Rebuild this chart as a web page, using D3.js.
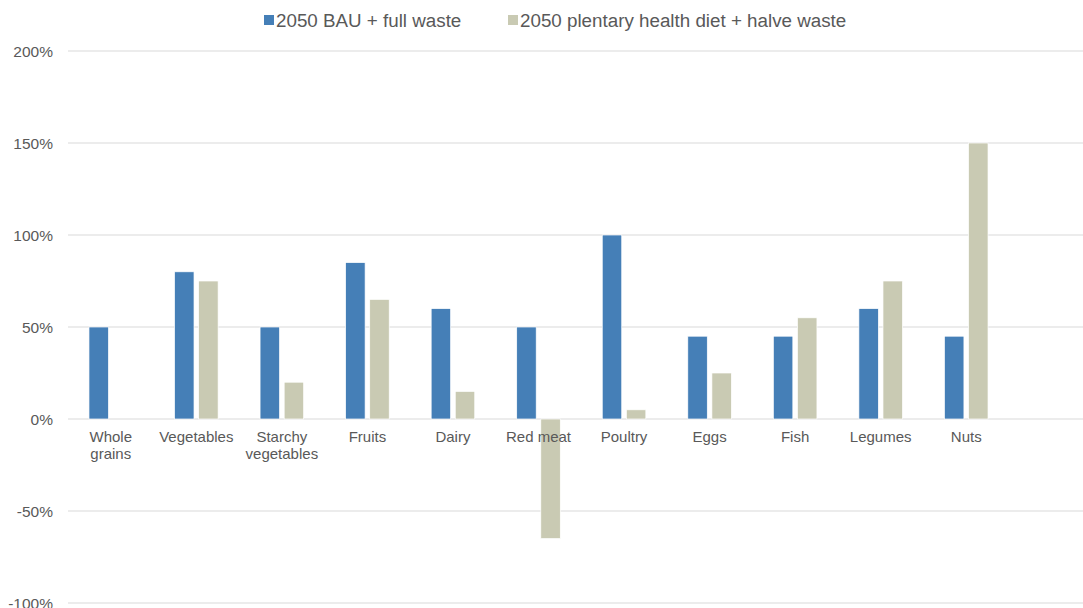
<!DOCTYPE html>
<html><head><meta charset="utf-8">
<script src="https://cdn.jsdelivr.net/npm/d3@7"></script>
<style>body{margin:0;background:#fff;} text{font-family:"Liberation Sans",Arial,sans-serif;fill:#595959;}</style>
</head><body><svg id="c" width="1083" height="608"></svg>
<script>
const categories = ["Whole grains","Vegetables","Starchy vegetables","Fruits","Dairy","Red meat","Poultry","Eggs","Fish","Legumes","Nuts"];
const seriesNames = ["2050 BAU + full waste","2050 plentary health diet + halve waste"];
const bau = [50,80,50,85,60,50,100,45,45,60,45];
const healthy = [0,75,20,65,15,-65,5,25,55,75,150];
const yTicks = [-100,-50,0,50,100,150,200];
const colors = ["#457fb7","#c9cab3"];

const svg = d3.select("#c");
const x = d3.scaleBand().domain(categories).range([68,1009]).paddingInner(0).paddingOuter(0);
const y = d3.scaleLinear().domain([-100,200]).range([603,51]);

// gridlines
svg.append("g").selectAll("line").data(yTicks).join("line")
  .attr("x1",68).attr("x2",1083).attr("y1",d=>y(d)).attr("y2",d=>y(d))
  .attr("stroke","#d9d9d9").attr("stroke-width",1);

// y axis labels
const yAxis = d3.axisLeft(y).tickValues(yTicks).tickFormat(d=>d+"%").tickSize(0).tickPadding(0);
const ga = svg.append("g").attr("transform","translate(53,0)").call(yAxis);
ga.select(".domain").remove();
ga.selectAll("text").style("font-size","15.5px").attr("fill","#595959").attr("font-family","Liberation Sans, Arial, sans-serif").attr("dy","0.35em");

// bars
const bw = 19.5, gap = 4.6;
const series = [bau, healthy];
series.forEach((vals,si)=>{
  svg.append("g").selectAll("rect").data(categories).join("rect")
    .attr("x",(c)=>x(c)+x.bandwidth()/2 + (si===0 ? -(bw+gap/2) : gap/2))
    .attr("width",bw)
    .attr("y",(c,i)=>y(Math.max(0,vals[i])))
    .attr("height",(c,i)=>Math.abs(y(vals[i])-y(0)))
    .attr("fill",colors[si])
    .attr("stroke","#ffffff").attr("stroke-width",0.7);
});

// category labels (drawn over bars)
const labelLines = {"Whole grains":["Whole","grains"],"Starchy vegetables":["Starchy","vegetables"]};
const lg = svg.append("g");
categories.forEach(c=>{
  const lines = labelLines[c] || [c];
  const t = lg.append("text").attr("x", x(c)+x.bandwidth()/2).attr("y",442)
    .attr("text-anchor","middle").style("font-size","15px");
  lines.forEach((l,i)=>t.append("tspan").attr("x",x(c)+x.bandwidth()/2).attr("dy", i===0?0:17).text(l));
});

// legend
const leg = svg.append("g");
const legX = [264,508];
seriesNames.forEach((n,i)=>{
  leg.append("rect").attr("x",legX[i]).attr("y",15).attr("width",10).attr("height",10).attr("fill",colors[i]);
  leg.append("text").attr("x",legX[i]+12).attr("y",26.5).style("font-size","18.8px").text(n);
});
</script></body></html>
